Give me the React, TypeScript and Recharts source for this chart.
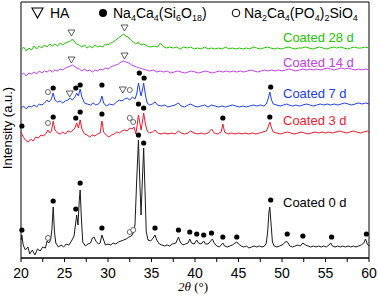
import { ComposedChart, Line, Scatter, XAxis, YAxis, ReferenceArea } from 'recharts'

// 2θ tick positions (labels every 5°, minor ticks every 2.5°)
const xTicks = [20, 22.5, 25, 27.5, 30, 32.5, 35, 37.5, 40, 42.5, 45, 47.5, 50, 52.5, 55, 57.5, 60]

// [2θ, intensity], each pattern already offset
const coated28: [number, number][] = [
  [20.0, 208], [20.3, 211], [20.6, 207], [20.9, 210], [21.2, 208], [21.5, 212], [21.8, 209], [22.1, 212],
  [22.4, 210], [22.7, 213], [23.0, 211], [23.3, 214], [23.6, 212], [23.9, 214], [24.2, 212], [24.5, 215],
  [24.8, 213], [25.1, 215], [25.4, 216], [25.7, 217], [25.9, 219], [26.1, 217], [26.4, 214], [26.7, 213],
  [27.0, 211], [27.3, 213], [27.6, 210], [27.9, 212], [28.2, 210], [28.5, 213], [28.8, 211], [29.1, 212],
  [29.4, 211], [29.7, 214], [30.0, 213], [30.3, 215], [30.6, 216], [30.9, 218], [31.2, 220], [31.5, 222],
  [31.8, 224], [32.0, 222], [32.3, 221], [32.6, 218], [32.9, 216], [33.2, 214], [33.5, 216], [33.8, 213],
  [34.1, 214], [34.5, 212], [34.9, 211], [35.3, 212], [35.7, 211], [36.0, 215], [36.3, 212], [36.7, 210],
  [37.1, 211], [37.5, 210], [37.9, 211], [38.3, 209], [38.7, 211], [39.1, 210], [39.5, 211], [39.9, 209],
  [40.3, 210], [40.7, 209], [41.1, 211], [41.5, 209], [41.9, 210], [42.3, 209], [42.7, 210], [43.1, 209],
  [43.5, 211], [43.9, 209], [44.3, 210], [44.7, 209], [45.1, 210], [45.5, 209], [45.9, 210], [46.3, 209],
  [46.7, 211], [47.1, 210], [47.5, 209], [47.9, 210], [48.3, 211], [48.7, 210], [49.1, 209], [49.5, 210],
  [49.9, 209], [50.3, 210], [50.7, 211], [51.1, 210], [51.5, 209], [51.9, 210], [52.3, 210], [52.7, 211],
  [53.1, 210], [53.5, 209], [53.9, 210], [54.3, 211], [54.7, 210], [55.1, 209], [55.5, 210], [55.9, 211],
  [56.3, 210], [56.7, 211], [57.1, 210], [57.5, 209], [57.9, 210], [58.3, 211], [58.7, 210], [59.1, 210],
  [59.5, 211], [60.0, 210],
]

const coated14: [number, number][] = [
  [20.0, 183], [20.3, 185], [20.6, 182], [20.9, 185], [21.2, 184], [21.5, 186], [21.8, 184], [22.1, 187],
  [22.4, 185], [22.7, 187], [23.0, 186], [23.3, 188], [23.6, 186], [23.9, 188], [24.2, 187], [24.5, 189],
  [24.8, 188], [25.1, 190], [25.4, 191], [25.7, 192], [25.9, 193], [26.1, 192], [26.4, 190], [26.7, 189],
  [27.0, 187], [27.3, 189], [27.6, 187], [27.9, 188], [28.2, 186], [28.5, 188], [28.8, 187], [29.1, 189],
  [29.4, 188], [29.7, 190], [30.0, 189], [30.3, 191], [30.6, 192], [30.9, 193], [31.2, 194], [31.5, 196],
  [31.8, 197], [32.1, 196], [32.4, 195], [32.7, 193], [33.0, 192], [33.3, 191], [33.6, 190], [34.0, 189],
  [34.4, 188], [34.8, 187], [35.2, 188], [35.6, 186], [36.0, 187], [36.4, 186], [36.8, 187], [37.2, 185],
  [37.6, 186], [38.0, 187], [38.4, 186], [38.8, 185], [39.2, 186], [39.6, 187], [40.0, 186], [40.4, 185],
  [40.8, 186], [41.2, 187], [41.6, 186], [42.0, 185], [42.4, 186], [42.8, 187], [43.2, 186], [43.6, 187],
  [44.0, 186], [44.4, 187], [44.8, 186], [45.2, 187], [45.6, 186], [46.0, 187], [46.4, 188], [46.8, 187],
  [47.2, 186], [47.6, 187], [48.0, 188], [48.4, 187], [48.8, 188], [49.2, 187], [49.6, 188], [50.0, 187],
  [50.4, 188], [50.8, 189], [51.2, 188], [51.6, 187], [52.0, 188], [52.4, 189], [52.8, 188], [53.2, 189],
  [53.6, 188], [54.0, 189], [54.4, 188], [54.8, 189], [55.2, 190], [55.6, 189], [56.0, 188], [56.4, 189],
  [56.8, 190], [57.2, 189], [57.6, 190], [58.0, 189], [58.4, 188], [58.8, 189], [59.2, 188], [59.6, 189],
  [60.0, 188],
]

const coated7: [number, number][] = [
  [20.0, 150], [20.3, 152], [20.6, 149], [20.9, 152], [21.2, 151], [21.5, 153], [21.8, 151], [22.1, 154],
  [22.4, 153], [22.7, 155], [23.0, 158], [23.2, 156], [23.5, 159], [23.7, 165], [23.9, 158], [24.2, 156],
  [24.5, 157], [24.8, 155], [25.1, 157], [25.4, 158], [25.6, 160], [25.9, 158], [26.2, 161], [26.4, 165],
  [26.6, 162], [26.8, 169], [27.0, 161], [27.3, 155], [27.6, 154], [28.0, 153], [28.3, 155], [28.6, 153],
  [28.9, 154], [29.1, 156], [29.3, 162], [29.5, 155], [29.8, 152], [30.2, 154], [30.6, 153], [31.0, 156],
  [31.3, 158], [31.6, 157], [31.9, 159], [32.2, 160], [32.5, 158], [32.8, 161], [33.1, 159], [33.3, 164],
  [33.5, 175], [33.7, 166], [33.8, 162], [33.95, 168], [34.1, 175], [34.3, 163], [34.5, 155], [34.8, 153],
  [35.1, 154], [35.4, 156], [35.7, 153], [36.1, 152], [36.5, 153], [36.9, 151], [37.3, 152], [37.7, 153],
  [38.1, 155], [38.4, 152], [38.8, 151], [39.2, 153], [39.5, 154], [39.9, 152], [40.3, 151], [40.7, 152],
  [41.1, 153], [41.5, 151], [41.9, 153], [42.3, 152], [42.7, 151], [43.1, 152], [43.5, 151], [43.9, 152],
  [44.3, 153], [44.7, 152], [45.1, 151], [45.5, 152], [45.9, 151], [46.3, 152], [46.7, 153], [47.1, 152],
  [47.5, 153], [47.9, 152], [48.2, 154], [48.4, 159], [48.6, 166], [48.8, 158], [49.0, 154], [49.4, 153],
  [49.8, 152], [50.2, 153], [50.5, 154], [50.8, 153], [51.2, 152], [51.6, 153], [52.0, 152], [52.4, 153],
  [52.8, 154], [53.2, 153], [53.6, 152], [54.0, 153], [54.4, 154], [54.8, 153], [55.2, 154], [55.6, 153],
  [56.0, 154], [56.4, 153], [56.8, 154], [57.2, 155], [57.6, 154], [58.0, 153], [58.4, 154], [58.8, 155],
  [59.2, 154], [59.6, 155], [60.0, 154],
]

const coated3: [number, number][] = [
  [20.0, 126], [20.2, 122], [20.5, 118], [20.8, 116], [21.1, 119], [21.4, 117], [21.7, 121], [22.0, 120],
  [22.3, 123], [22.6, 122], [22.9, 125], [23.1, 128], [23.3, 125], [23.5, 127], [23.7, 137], [23.9, 128],
  [24.2, 125], [24.5, 124], [24.8, 126], [25.1, 124], [25.4, 127], [25.7, 126], [26.0, 128], [26.2, 130],
  [26.4, 135], [26.6, 130], [26.8, 138], [27.0, 129], [27.3, 124], [27.6, 123], [27.9, 121], [28.2, 123],
  [28.5, 122], [28.8, 124], [29.1, 125], [29.3, 137], [29.5, 126], [29.8, 123], [30.1, 121], [30.4, 123],
  [30.7, 124], [31.0, 126], [31.3, 125], [31.6, 127], [31.9, 128], [32.2, 127], [32.5, 130], [32.8, 129],
  [33.0, 131], [33.2, 124], [33.35, 133], [33.5, 143], [33.7, 133], [33.8, 128], [33.95, 136], [34.1, 145],
  [34.3, 134], [34.5, 127], [34.8, 125], [35.1, 126], [35.4, 128], [35.7, 125], [36.1, 124], [36.5, 125],
  [36.9, 124], [37.3, 125], [37.7, 124], [38.1, 127], [38.4, 125], [38.8, 124], [39.2, 125], [39.5, 127],
  [39.9, 125], [40.3, 124], [40.7, 125], [41.1, 124], [41.5, 125], [41.9, 129], [42.2, 125], [42.6, 124],
  [43.0, 126], [43.2, 134], [43.4, 126], [43.8, 124], [44.2, 125], [44.6, 124], [45.0, 125], [45.4, 124],
  [45.8, 125], [46.2, 124], [46.6, 125], [47.0, 124], [47.4, 125], [47.8, 126], [48.2, 127], [48.4, 131],
  [48.6, 136], [48.8, 130], [49.0, 126], [49.4, 125], [49.8, 124], [50.2, 125], [50.6, 126], [51.0, 125],
  [51.4, 124], [51.8, 125], [52.2, 126], [52.6, 125], [53.0, 124], [53.4, 125], [53.8, 126], [54.2, 125],
  [54.6, 126], [55.0, 125], [55.4, 126], [55.8, 125], [56.2, 126], [56.6, 127], [57.0, 126], [57.4, 125],
  [57.8, 126], [58.2, 127], [58.6, 126], [59.0, 125], [59.4, 126], [59.8, 127], [60.0, 126],
]

const coated0: [number, number][] = [
  [20.0, 18], [20.1, 23], [20.25, 13], [20.5, 8], [20.8, 11], [21.0, 4], [21.3, 8], [21.6, 3],
  [21.9, 9], [22.2, 7], [22.5, 11], [22.8, 10], [23.0, 17], [23.2, 15], [23.4, 18], [23.55, 28],
  [23.7, 51], [23.85, 26], [24.0, 15], [24.3, 11], [24.6, 13], [24.9, 11], [25.2, 14], [25.5, 13],
  [25.8, 17], [26.1, 22], [26.3, 36], [26.4, 43], [26.55, 33], [26.7, 58], [26.8, 68], [26.95, 38],
  [27.1, 16], [27.4, 12], [27.7, 14], [28.0, 15], [28.2, 20], [28.4, 21], [28.6, 17], [28.9, 14],
  [29.1, 15], [29.3, 23], [29.5, 18], [29.7, 13], [30.0, 14], [30.3, 13], [30.6, 15], [30.9, 14],
  [31.2, 16], [31.5, 17], [31.8, 18], [32.1, 19], [32.4, 21], [32.7, 22], [32.9, 25], [33.1, 33],
  [33.3, 78], [33.5, 118], [33.65, 78], [33.8, 43], [33.95, 78], [34.1, 110], [34.25, 68], [34.4, 26],
  [34.6, 18], [34.9, 17], [35.2, 20], [35.4, 23], [35.6, 18], [35.9, 14], [36.2, 13], [36.5, 12],
  [36.8, 13], [37.1, 12], [37.4, 14], [37.8, 15], [38.1, 21], [38.3, 16], [38.6, 13], [38.9, 14],
  [39.2, 15], [39.4, 19], [39.6, 15], [39.9, 14], [40.2, 18], [40.4, 15], [40.7, 14], [41.0, 17],
  [41.2, 14], [41.5, 14], [41.8, 17], [42.0, 19], [42.2, 15], [42.5, 12], [42.8, 11], [43.0, 13],
  [43.2, 15], [43.4, 12], [43.7, 11], [44.0, 12], [44.3, 13], [44.6, 15], [44.8, 16], [45.0, 14],
  [45.3, 12], [45.6, 11], [45.9, 12], [46.2, 10], [46.5, 11], [46.8, 12], [47.1, 11], [47.4, 12],
  [47.7, 11], [48.0, 12], [48.2, 15], [48.35, 26], [48.5, 46], [48.6, 51], [48.75, 33], [48.9, 16],
  [49.1, 12], [49.4, 11], [49.7, 12], [50.0, 13], [50.3, 15], [50.5, 17], [50.7, 15], [50.9, 12],
  [51.2, 11], [51.5, 12], [51.8, 13], [52.1, 12], [52.4, 15], [52.7, 13], [53.0, 12], [53.3, 11],
  [53.6, 12], [53.9, 11], [54.2, 12], [54.5, 11], [54.8, 12], [55.1, 11], [55.4, 13], [55.6, 15],
  [55.8, 12], [56.1, 11], [56.4, 12], [56.7, 11], [57.0, 12], [57.3, 11], [57.6, 12], [57.9, 11],
  [58.2, 12], [58.5, 11], [58.8, 12], [59.1, 13], [59.4, 15], [59.6, 19], [59.8, 14], [60.0, 12],
]

// phase markers [2θ, height]
const haMarks: [number, number][] = [
  [25.8, 225], [31.9, 230], [25.8, 198], [31.9, 202], [25.6, 164], [31.7, 168],
]
const silicateMarks: [number, number][] = [
  [23.7, 170], [26.3, 170], [26.8, 173], [29.3, 173], [33.6, 185], [34.15, 180], [48.7, 171],
  [20.1, 132], [23.7, 141], [26.3, 140], [26.8, 146], [29.3, 144], [33.5, 154], [34.1, 150], [43.2, 140], [48.6, 141],
  [20.1, 28], [23.7, 57], [26.3, 49], [26.8, 75], [29.3, 30], [33.5, 123], [34.1, 115], [35.4, 30],
  [38.1, 28], [39.4, 26], [40.2, 24], [41.0, 23], [41.9, 25], [43.2, 21], [44.8, 21], [48.7, 58],
  [50.6, 24], [52.4, 22], [55.7, 21], [59.7, 24],
]
const phosphoMarks: [number, number][] = [
  [23.1, 166], [32.5, 168],
  [23.1, 135], [32.5, 140], [32.9, 136],
  [23.1, 20], [32.5, 26], [32.9, 28],
]

// legend formulas, split into [text, isSubscript]
const silicateName: [string, boolean][] = [
  ['Na', false], ['4', true], ['Ca', false], ['4', true], ['(Si', false], ['6', true], ['O', false], ['18', true], [')', false],
]
const phosphoName: [string, boolean][] = [
  ['Na', false], ['2', true], ['Ca', false], ['4', true], ['(PO', false], ['4', true], [')', false], ['2', true],
  ['SiO', false], ['4', true],
]

const pts = (a: [number, number][]) => a.map(([x, y]) => ({ x, y }))

const SANS = '"Liberation Sans", Arial, sans-serif'

const XTick = ({ x, y, payload }: any) => (
  <g>
    {payload.value % 5 === 0 && (
      <text x={x} y={y} dy={14} textAnchor="middle" fontSize={14} fontFamily={SANS} fill="#000">
        {payload.value}
      </text>
    )}
  </g>
)

const Tri = ({ cx, cy }: any) => (
  <polygon
    points={`${cx - 3.5},${cy - 3} ${cx + 3.5},${cy - 3} ${cx},${cy + 3}`}
    fill="#fff"
    stroke="#333"
    strokeWidth={0.8}
  />
)
const Dot = ({ cx, cy }: any) => <circle cx={cx} cy={cy} r={2.6} fill="#000" />
const Ring = ({ cx, cy }: any) => <circle cx={cx} cy={cy} r={2.5} fill="#fff" stroke="#444" strokeWidth={0.8} />

const labels = [
  { text: 'Coated 28 d', y: 42, color: '#22c400' },
  { text: 'Coated 14 d', y: 67, color: '#c23ee6' },
  { text: 'Coated 7 d', y: 98, color: '#2040ee' },
  { text: 'Coated 3 d', y: 125, color: '#f0182e' },
  { text: 'Coated 0 d', y: 207, color: '#000' },
]

const Formula = ({ x, y, parts }: { x: number; y: number; parts: [string, boolean][] }) => (
  <text x={x} y={y}>
    {parts.map(([t, sub], i) => {
      const prevSub = i > 0 && parts[i - 1][1]
      const dy = sub && !prevSub ? 3 : !sub && prevSub ? -3 : 0
      return (
        <tspan key={i} dy={dy} fontSize={sub ? 9 : undefined}>
          {t}
        </tspan>
      )
    })}
  </text>
)

export default function App() {
  return (
    <div style={{ position: 'absolute', left: 0, top: 0, width: 378, height: 296, background: '#fff' }}>
      <ComposedChart width={378} height={296} margin={{ top: 2, right: 9, left: 21, bottom: 8 }}>
        <XAxis
          dataKey="x"
          type="number"
          domain={[20, 60]}
          ticks={xTicks}
          interval={0}
          tickSize={4}
          tickMargin={2}
          height={30}
          stroke="#000"
          tick={<XTick />}
        />
        <YAxis hide type="number" domain={[0, 256]} />
        <ReferenceArea x1={20} x2={60} y1={0} y2={256} fill="none" stroke="#000" strokeWidth={1} />
        <Line data={pts(coated28)} dataKey="y" stroke="#22c400" strokeWidth={1} dot={false} isAnimationActive={false} />
        <Line data={pts(coated14)} dataKey="y" stroke="#c23ee6" strokeWidth={1} dot={false} isAnimationActive={false} />
        <Line data={pts(coated7)} dataKey="y" stroke="#2040ee" strokeWidth={1} dot={false} isAnimationActive={false} />
        <Line data={pts(coated3)} dataKey="y" stroke="#f0182e" strokeWidth={1} dot={false} isAnimationActive={false} />
        <Line data={pts(coated0)} dataKey="y" stroke="#1a1a1a" strokeWidth={1} dot={false} isAnimationActive={false} />
        <Scatter data={pts(haMarks)} dataKey="y" shape={<Tri />} isAnimationActive={false} />
        <Scatter data={pts(silicateMarks)} dataKey="y" shape={<Dot />} isAnimationActive={false} />
        <Scatter data={pts(phosphoMarks)} dataKey="y" shape={<Ring />} isAnimationActive={false} />
      </ComposedChart>
      <svg width={378} height={296} style={{ position: 'absolute', left: 0, top: 0, pointerEvents: 'none' }}>
        <g fontFamily={SANS} fontSize={14} fill="#000">
          <polygon points="32,8 43,8 37.5,18" fill="none" stroke="#000" strokeWidth={1.1} />
          <text x={50} y={18}>HA</text>
          <circle cx={103} cy={13} r={4} fill="#000" />
          <Formula x={113} y={18} parts={silicateName} />
          <circle cx={236} cy={13} r={3.8} fill="none" stroke="#000" strokeWidth={1} />
          <Formula x={244} y={18} parts={phosphoName} />
        </g>
        {labels.map((l) => (
          <text key={l.text} x={283} y={l.y} fontFamily={SANS} fontSize={13} fill={l.color}>
            {l.text}
          </text>
        ))}
        <text
          x={12}
          y={128}
          transform="rotate(-90 12 128)"
          textAnchor="middle"
          fontFamily={SANS}
          fontSize={13}
          fill="#000"
        >
          Intensity (a.u.)
        </text>
        <text x={193} y={291} textAnchor="middle" fontFamily='"Liberation Serif", "Times New Roman", serif' fontSize={13} fill="#000">
          <tspan fontStyle="italic">2θ</tspan> (°)
        </text>
      </svg>
    </div>
  )
}
